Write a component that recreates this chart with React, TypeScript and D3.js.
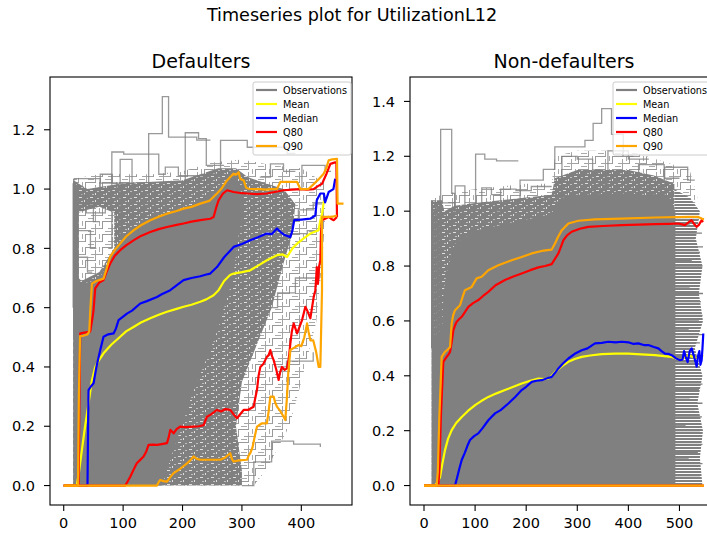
import React from "react";
import * as d3 from "d3";

type P = [number, number];
type V = [number, number, number];

const FONT = "'DejaVu Sans', sans-serif";

// ---------- axis ticks ----------
const leftXTicks = [0, 100, 200, 300, 400];
const leftYTicks = [0, 0.2, 0.4, 0.6, 0.8, 1.0, 1.2];
const rightXTicks = [0, 100, 200, 300, 400, 500];
const rightYTicks = [0, 0.2, 0.4, 0.6, 0.8, 1.0, 1.2, 1.4];
const leftXDomain: P = [-23.1, 485.3];
const leftYDomain: P = [-0.0656, 1.378];
const rightXDomain: P = [-27.4, 575.4];
const rightYDomain: P = [-0.0709, 1.489];

const legendLabels = ["Observations", "Mean", "Median", "Q80", "Q90"];

// ---------- Defaulters: statistics ----------
const leftMean: P[] = [[0,0],[22,0],[26,0.05],[30.6,0.12],[36,0.2],[41.8,0.277],[47,0.35],[53,0.4],[60,0.425],[67,0.446],[80,0.475],[95,0.502],[105,0.52],[117.5,0.535],[130,0.55],[145.7,0.564],[160,0.576],[173.8,0.586],[190,0.596],[201.8,0.603],[215,0.61],[229.9,0.62],[240,0.628],[252.3,0.642],[260.7,0.659],[270,0.69],[280,0.71],[286,0.715],[300,0.72],[314,0.726],[330,0.745],[342,0.76],[359,0.777],[368,0.78],[376,0.771],[385,0.8],[392.8,0.816],[405,0.835],[415,0.85],[429,0.861],[432,0.895],[435,0.917],[438,0.96]];
const leftMedian: P[] = [[0,0],[40,0],[41,0.2],[41.8,0.322],[46,0.335],[50.2,0.345],[55,0.4],[61.5,0.457],[67,0.502],[75,0.51],[83.9,0.513],[88,0.53],[92.3,0.558],[100,0.57],[106.4,0.58],[115,0.59],[128.9,0.614],[140,0.622],[157,0.636],[165,0.645],[179.4,0.659],[190,0.675],[201.8,0.693],[215,0.7],[229.9,0.706],[240,0.712],[246.7,0.715],[258,0.737],[270,0.77],[286,0.805],[300,0.815],[314,0.827],[330,0.84],[342,0.85],[350,0.848],[359,0.867],[365,0.855],[372,0.845],[381.5,0.838],[385,0.86],[388,0.895],[400,0.897],[415,0.9],[423.6,0.911],[426,0.962],[431.9,0.985],[438,0.985],[440,0.955],[446,0.99],[454,1.0],[457,1.035]];
const leftQ80: P[] = [[0,0],[25,0],[26.5,0.3],[27.8,0.513],[44.6,0.519],[48,0.56],[50.2,0.592],[53,0.665],[60,0.685],[67,0.693],[72,0.72],[78.3,0.749],[86,0.775],[95,0.794],[105,0.81],[117.5,0.827],[130,0.842],[145.7,0.855],[160,0.865],[173.8,0.872],[190,0.879],[201.8,0.884],[215,0.89],[229.9,0.895],[246.7,0.9],[252.3,0.906],[257,0.94],[260.7,0.962],[268,0.985],[275,0.996],[286,0.99],[300,0.986],[308.6,0.985],[325,0.983],[342,0.985],[355,0.99],[370,0.996],[385,0.998],[398,1.0],[410,0.998],[420.7,1.0],[428,1.01],[434.9,1.018],[442,1.05],[448.9,1.085],[457,1.09],[459,1.09],[460,0.906]];
const leftQ80Low: P[] = [[0,0],[103.6,0],[108,0.015],[112,0.03],[118,0.055],[123,0.075],[128,0.085],[134.4,0.098],[139,0.115],[142.8,0.137],[150,0.138],[157,0.137],[165,0.14],[173.8,0.143],[177,0.165],[179.4,0.188],[185,0.176],[190,0.19],[196,0.199],[205,0.197],[218.6,0.199],[228,0.2],[235.5,0.204],[241,0.232],[248,0.24],[258,0.255],[265,0.25],[272,0.258],[280.4,0.255],[286,0.24],[291.7,0.227],[296,0.238],[302.9,0.255],[310,0.255],[319.7,0.266],[322,0.29],[325.3,0.322],[328,0.37],[331,0.4],[336,0.41],[342,0.434],[345,0.44],[347.8,0.457],[350,0.44],[353.4,0.423],[358,0.39],[361.8,0.356],[364,0.38],[367.4,0.4],[372,0.39],[375.9,0.395],[379,0.43],[381.5,0.479],[384,0.52],[387.1,0.547],[390,0.53],[392.8,0.513],[396,0.53],[401.2,0.558],[404,0.58],[406.8,0.603],[410,0.59],[415.2,0.564],[418,0.6],[420.8,0.636],[423.6,0.659],[425,0.7],[426,0.737],[428,0.68],[430,0.74],[432,0.76],[433,0.85],[434.8,0.895],[440,0.9],[446,0.906],[450,0.9],[454.5,0.895],[460,0.906]];
const leftQ90: P[] = [[0,0],[24,0],[25.5,0.3],[27.5,0.504],[33,0.505],[40,0.51],[43,0.52],[45,0.6],[47.5,0.681],[55,0.69],[67,0.698],[72,0.73],[78,0.771],[86,0.795],[95,0.816],[105,0.84],[117.6,0.861],[130,0.878],[145.7,0.895],[160,0.907],[173.8,0.917],[190,0.926],[201.6,0.934],[215,0.94],[229.9,0.951],[245,0.96],[258,0.985],[265,1.0],[274.9,1.029],[280,1.04],[286,1.052],[290,1.048],[294.5,1.057],[297,1.035],[303,1.029],[307,1.005],[311,1.001],[320,1.0],[330,1.0],[340,0.998],[350,1.0],[359,1.0],[364.6,1.024],[375,1.024],[385,1.024],[392.8,1.024],[398.3,1.0],[405,1.0],[412,1.0],[420,1.015],[430,1.035],[437.6,1.052],[442,1.07],[446,1.097],[452,1.1],[460,1.102],[461,0.951],[471,0.951]];
const leftQ90Low: P[] = [[0,0],[157,0],[160,0.012],[162.5,0.019],[168,0.015],[173.8,0.013],[180,0.03],[185,0.042],[195,0.055],[207.5,0.075],[213,0.085],[218.6,0.098],[224,0.09],[229.9,0.087],[245,0.087],[263.6,0.087],[272,0.095],[280.4,0.109],[283,0.09],[286,0.081],[295,0.085],[308.6,0.087],[311,0.1],[314,0.109],[318,0.13],[322,0.17],[325.4,0.199],[330,0.205],[333.8,0.21],[342,0.21],[345,0.25],[347.8,0.3],[353.4,0.3],[356,0.28],[359,0.266],[365,0.25],[370.2,0.232],[373,0.221],[375.9,0.3],[378,0.38],[381.5,0.457],[388,0.465],[395.5,0.474],[400,0.47],[405,0.5],[409.6,0.547],[412,0.52],[415.2,0.49],[420,0.49],[425,0.45],[429.2,0.4],[432,0.4],[434.8,0.659],[434.8,0.906],[440,0.906],[448.9,0.906],[455,0.908],[460,0.911]];

// ---------- Defaulters: observation cloud (regions of differing line density) ----------
const leftSparse: P[] = [[16,0],[16,1.035],[60,1.05],[100,1.05],[150,1.05],[200,1.06],[250,1.09],[300,1.1],[350,1.08],[400,1.07],[440,1.02],[440,0.9],[435,0.75],[425,0.55],[400,0.35],[380,0.2],[340,0.05],[320,0]];
const leftDense: P[] = [[16,0],[16,1.03],[24,1.02],[40,1.0],[100,1.02],[200,1.03],[230,1.05],[260,1.07],[290,1.07],[310,1.04],[340,1.02],[370,1.0],[390,0.95],[385,0.85],[370,0.75],[350,0.6],[330,0.5],[300,0.35],[290,0.2],[300,0.05],[300,0]];
const leftPocket: P[] = [[25,0.7],[25,0.92],[40,0.93],[60,0.94],[85,0.92],[85,0.8],[60,0.72],[30,0.69]];
const leftSolid: P[] = [[16,0],[16,1.0],[24,1.0],[25,0.7],[30,0.68],[48,0.69],[60,0.7],[72,0.74],[80,0.78],[95,0.82],[110,0.86],[130,0.885],[160,0.91],[200,0.935],[230,0.955],[258,0.99],[275,1.03],[290,1.05],[300,0.98],[300,0.9],[295,0.85],[285,0.7],[255,0.5],[215,0.3],[190,0.15],[165,0]];
const leftVerticals: V[] = [[16,0.6,1.02],[17,0.5,1.035],[18.5,0.6,1.0],[20,0.6,1.025],[22,0.6,0.98],[23.5,0.6,1.01]];
const leftObs: P[][] = [
  [[130,0.95],[143,1.187],[166,1.312],[176.5,1.175],[224,1.165],[247,1.165]],
  [[75,0.8],[81,1.125],[101,1.118],[160,1.05],[171,1.074],[193,1.045],[241,1.0],[260,1.0]],
  [[90,0.85],[95,1.1],[115,1.0],[150,1.0]],
  [[40,0.95],[61.5,1.05],[81,1.02],[120,1.0]],
  [[17,1.035],[61.5,1.02],[90,1.0]],
  [[180,0.98],[204.6,1.19],[227,1.17],[240,1.08],[270,1.08]],
  [[240,1.05],[264,1.164],[309,1.141],[376,1.12],[390,1.12]],
  [[330,1.04],[348,1.085],[370,1.06],[390,1.06]],
  [[380,1.0],[401,1.08],[440,1.06],[450,1.06]],
  [[24,0.95],[50,0.89],[60,0.89]],
  [[24,0.86],[45,0.8],[55,0.8]],
  [[24,0.77],[40,0.72],[48,0.72]],
  [[30,0.98],[38,0.92],[70,0.95]],
  [[300,0],[320,0.08],[350,0.15],[380,0.15],[387,0.14],[432,0.13]],
  [[360,0.4],[375,0.42],[400,0.42],[420,0.45]],
  [[340,0.6],[360,0.65],[390,0.7],[430,0.72]],
  [[350,0.8],[380,0.85],[410,0.86],[430,0.86]],
  [[370,0.9],[395,0.93],[420,0.95],[435,0.95]],
];

// ---------- Non-defaulters: statistics ----------
const rightMean: P[] = [[0,0],[21.5,0],[26,0.01],[31.3,0.03],[36,0.08],[41.1,0.129],[47,0.17],[54.2,0.202],[63,0.228],[73.8,0.25],[86,0.272],[100,0.293],[112,0.308],[125.9,0.323],[142,0.336],[158.5,0.348],[175,0.36],[191.2,0.372],[208,0.382],[223.8,0.39],[235,0.388],[243.3,0.39],[250,0.4],[256.4,0.414],[270,0.435],[282.5,0.451],[295,0.461],[308.6,0.469],[325,0.474],[347.7,0.479],[375,0.481],[399.8,0.481],[425,0.478],[452,0.475],[470,0.472],[484.7,0.469],[495,0.462],[501,0.457],[508,0.465],[517,0.475],[525,0.47],[533,0.465],[540,0.47],[546.6,0.475]];
const rightMedian: P[] = [[0,0],[60.7,0],[65,0.03],[69,0.06],[73.8,0.093],[80,0.12],[85,0.145],[90,0.166],[98,0.18],[106.3,0.19],[115,0.21],[125.9,0.238],[132,0.25],[139,0.263],[150,0.275],[165.1,0.299],[178,0.322],[191.2,0.348],[200,0.36],[210.8,0.378],[220,0.382],[230.3,0.384],[240,0.39],[249.9,0.396],[256,0.41],[263,0.427],[272,0.445],[282.5,0.463],[295,0.48],[308.6,0.493],[320,0.5],[334.6,0.518],[348,0.52],[360.7,0.524],[375,0.522],[386.9,0.524],[400,0.522],[410,0.516],[419.5,0.518],[430,0.512],[439,0.512],[450,0.505],[458.6,0.5],[465,0.49],[471.6,0.481],[478,0.48],[484.7,0.475],[492,0.465],[501,0.457],[506,0.46],[509,0.49],[512,0.47],[516,0.45],[520,0.49],[523.9,0.5],[527,0.48],[530,0.46],[533.7,0.433],[536,0.47],[539,0.49],[541,0.44],[543.4,0.457],[545,0.5],[546.6,0.554]];
const rightQ80: P[] = [[0,0],[28,0],[30,0.05],[33,0.25],[37.8,0.451],[41,0.46],[44.4,0.469],[48,0.478],[51,0.487],[54,0.52],[57.4,0.566],[61,0.585],[64,0.597],[68,0.605],[73.8,0.615],[80,0.632],[86.8,0.651],[96,0.665],[106.3,0.676],[115,0.69],[125.9,0.706],[140,0.73],[158.5,0.749],[175,0.762],[191.2,0.773],[208,0.785],[223.9,0.795],[237,0.8],[249.9,0.807],[256,0.825],[263,0.846],[268,0.87],[272.8,0.894],[280,0.912],[289,0.925],[305,0.936],[321.5,0.943],[350,0.946],[386.9,0.949],[420,0.951],[452,0.953],[480,0.954],[497.6,0.955],[505,0.952],[510.6,0.949],[517,0.958],[523.6,0.967],[528,0.955],[533.4,0.943],[538,0.95],[543.3,0.967],[546,0.96]];
const rightQ80Low: P[] = [[0,0],[548,0]];
const rightQ90: P[] = [[0,0],[24.8,0],[27,0.05],[30,0.25],[34.6,0.469],[41,0.487],[46,0.495],[51,0.505],[54.2,0.591],[57,0.62],[60.7,0.639],[70.5,0.657],[76,0.69],[80.2,0.712],[93.3,0.724],[103,0.755],[112.9,0.761],[125.9,0.785],[145.4,0.803],[171.6,0.821],[191.2,0.833],[210.8,0.846],[230.3,0.855],[249.9,0.86],[256.4,0.882],[262,0.905],[269.5,0.93],[282.5,0.955],[302,0.965],[334.6,0.97],[386.9,0.973],[452,0.977],[517.2,0.979],[536.8,0.979],[543.3,0.973],[548,0.97]];
const rightQ90Low: P[] = [[0,0],[548,0]];

// ---------- Non-defaulters: observation cloud ----------
const rightSparse: P[] = [[15,0.9],[15,1.045],[35,1.06],[60,1.07],[100,1.08],[200,1.1],[250,1.1],[256,1.2],[300,1.22],[400,1.22],[470,1.18],[520,1.15],[535,1.05],[500,0.9]];
const rightDense: P[] = [[15,0],[15,1.04],[35,1.04],[40,1.0],[60,1.02],[100,1.03],[150,1.04],[250,1.06],[256,1.12],[300,1.15],[400,1.15],[450,1.13],[490,1.1],[492,0]];
const rightSolid: P[] = [[15,0],[15,0.55],[35,0.55],[38,0.7],[45,0.78],[60,0.88],[100,0.93],[150,0.95],[200,0.97],[250,0.99],[258,1.03],[270,1.05],[300,1.06],[400,1.065],[480,1.05],[492,1.0],[492,0]];
const rightHatch: P[] = [[490,0],[545,0],[540,0.1],[546,0.2],[535,0.3],[545,0.4],[530,0.5],[546,0.6],[538,0.7],[545,0.8],[532,0.9],[540,1.0],[520,1.05],[490,1.08]];
const rightVerticals: V[] = [[15,0.5,1.04],[16.5,0.5,1.03],[19,0.5,1.0],[22,0.5,0.98],[25,0.5,1.03],[28,0.5,0.95],[31,0.5,1.04],[34,0.6,1.02]];
const rightEdgeSegs: V[] = [[0.03,480,540],[0.05,480,528],[0.08,480,545],[0.1,480,518],[0.12,480,536],[0.15,480,545],[0.17,480,525],[0.2,480,540],[0.22,480,512],[0.25,480,544],[0.27,480,530],[0.3,480,545],[0.32,480,520],[0.35,480,538],[0.37,480,545],[0.4,480,515],[0.42,480,542],[0.45,480,530],[0.47,480,545],[0.5,480,522],[0.52,480,540],[0.55,480,546],[0.57,480,518],[0.6,480,538],[0.62,480,545],[0.65,480,528],[0.67,480,542],[0.7,480,546],[0.72,480,520],[0.75,480,540],[0.77,480,532],[0.8,480,545],[0.82,480,524],[0.85,480,540],[0.87,480,546],[0.9,480,530],[0.92,480,544],[0.95,480,520],[0.97,480,538]];
const rightObs: P[][] = [
  [[20,1.0],[32.6,1.298],[54.2,1.065],[60,1.0]],
  [[95,1.0],[101,1.208],[119,1.19],[142,1.183],[184.6,1.183]],
  [[55,1.0],[61,1.092],[80,1.0]],
  [[105,1.0],[113,1.085],[132,1.06],[150,1.06]],
  [[180,1.04],[188,1.113],[233.5,1.152],[256,1.234],[315,1.258],[331,1.32],[347.7,1.374],[367,1.28],[390,1.2],[410,1.2]],
  [[440,1.06],[471,1.16],[516,1.113],[530,1.113]],
  [[256,1.06],[270,1.2],[300,1.19],[330,1.15],[345,1.15]],
  [[400,1.08],[420,1.17],[455,1.17],[470,1.12],[500,1.12]],
  [[340,1.1],[360,1.22],[380,1.22],[400,1.19],[440,1.19]],
  [[15,1.03],[30,1.03],[60,1.0]],
  [[130,1.0],[150,1.08],[180,1.075],[210,1.09],[250,1.09]],
];

// ---------- drawing ----------
const TOP = 77;
const BOTTOM = 505;
const GREY = "#808080";

function Panel(props: any) {
  const { id, x0, x1, xDomain, yDomain, xTicks, yTicks, title, sparse, dense, pocket, solid, hatch, verticals, obs, edgeSegs, stats, legendX } = props;
  const x = d3.scaleLinear().domain(xDomain).range([x0, x1]);
  const y = d3.scaleLinear().domain(yDomain).range([BOTTOM, TOP]);
  const poly = d3.line<P>().x((d) => x(d[0])).y((d) => y(d[1]));
  const step = d3.line<P>().x((d) => x(d[0])).y((d) => y(d[1])).curve(d3.curveStepAfter);
  const lin = d3.line<P>().x((d) => x(d[0])).y((d) => y(d[1]));
  const yFmt = d3.format(".1f");
  const legendColors = ["grey", "yellow", "blue", "red", "orange"];
  const area = (pts: P[] | null) => (pts ? (poly(pts) || "") + "Z" : "");
  return (
    <g>
      <defs>
        <clipPath id={id}>
          <rect x={x0} y={TOP} width={x1 - x0} height={BOTTOM - TOP} />
        </clipPath>
      </defs>
      <g clipPath={`url(#${id})`}>
        {sparse && <path d={area(sparse)} fill="url(#pSparse)" />}
        {dense && <path d={area(dense)} fill="url(#pDense)" />}
        {pocket && <path d={area(pocket)} fill="url(#pSparse)" />}
        {hatch && <path d={area(hatch)} fill="url(#pHatch)" />}
        <path d={area(solid)} fill={GREY} />
        {verticals.map((v: V, i: number) => (
          <line key={"v" + i} x1={x(v[0])} x2={x(v[0])} y1={y(v[1])} y2={y(v[2])} stroke={GREY} strokeWidth={1.3} />
        ))}
        {edgeSegs.map((v: V, i: number) => (
          <line key={"e" + i} x1={x(v[1])} x2={x(v[2])} y1={y(v[0])} y2={y(v[0])} stroke={GREY} strokeWidth={1.3} />
        ))}
        {obs.map((o: P[], i: number) => (
          <path key={"o" + i} d={step(o) || ""} fill="none" stroke={GREY} strokeWidth={1.3} strokeOpacity={0.8} />
        ))}
        {stats.map((s: any, i: number) => (
          <path key={"s" + i} d={lin(s.data) || ""} fill="none" stroke={s.color} strokeWidth={2.2} strokeLinejoin="round" />
        ))}
      </g>
      <rect x={x0} y={TOP} width={x1 - x0} height={BOTTOM - TOP} fill="none" stroke="#000" strokeWidth={1.1} />
      {xTicks.map((t: number) => (
        <g key={"xt" + t}>
          <line x1={x(t)} x2={x(t)} y1={BOTTOM} y2={BOTTOM + 6} stroke="#000" strokeWidth={1.1} />
          <text x={x(t)} y={BOTTOM + 23} textAnchor="middle" fontFamily={FONT} fontSize={14.5}>{t}</text>
        </g>
      ))}
      {yTicks.map((t: number) => (
        <g key={"yt" + t}>
          <line x1={x0 - 6} x2={x0} y1={y(t)} y2={y(t)} stroke="#000" strokeWidth={1.1} />
          <text x={x0 - 15} y={y(t) + 5.2} textAnchor="end" fontFamily={FONT} fontSize={14.5}>{yFmt(t)}</text>
        </g>
      ))}
      <text x={(x0 + x1) / 2} y={68} textAnchor="middle" fontFamily={FONT} fontSize={19}>{title}</text>
      <g>
        <rect x={legendX} y={82} width={98} height={73} rx={2} fill="#fff" fillOpacity={0.8} stroke="#cccccc" strokeWidth={1} />
        {legendLabels.map((lab, i) => (
          <g key={lab}>
            <line x1={legendX + 3} x2={legendX + 24} y1={90 + i * 14} y2={90 + i * 14} stroke={legendColors[i]} strokeWidth={2.2} />
            <text x={legendX + 30} y={90 + i * 14 + 3.5} fontFamily={FONT} fontSize={9.7}>{lab}</text>
          </g>
        ))}
      </g>
    </g>
  );
}

export default function App() {
  const leftStats = [
    { data: leftMean, color: "yellow" },
    { data: leftMedian, color: "blue" },
    { data: leftQ80Low, color: "red" },
    { data: leftQ80, color: "red" },
    { data: leftQ90Low, color: "orange" },
    { data: leftQ90, color: "orange" },
  ];
  const rightStats = [
    { data: rightMean, color: "yellow" },
    { data: rightMedian, color: "blue" },
    { data: rightQ80Low, color: "red" },
    { data: rightQ80, color: "red" },
    { data: rightQ90Low, color: "orange" },
    { data: rightQ90, color: "orange" },
  ];
  return (
    <svg width={707} height={534} style={{ position: "absolute", left: 0, top: 0, background: "#fff" }}>
      <defs>
        <pattern id="pDense" width={11} height={7} patternUnits="userSpaceOnUse">
          <rect width={11} height={7} fill={GREY} />
          <rect x={2} y={1} width={3} height={1} fill="#fff" opacity={0.75} />
          <rect x={7} y={4} width={1} height={2} fill="#fff" opacity={0.75} />
          <rect x={9} y={2} width={2} height={1} fill="#fff" opacity={0.5} />
          <rect x={4} y={5} width={2} height={1} fill="#fff" opacity={0.5} />
        </pattern>
        <pattern id="pSparse" width={17} height={13} patternUnits="userSpaceOnUse">
          <rect width={17} height={13} fill="#fff" />
          <rect x={0} y={0} width={11} height={1} fill="#999" />
          <rect x={6} y={7} width={11} height={1} fill="#a3a3a3" />
          <rect x={0} y={0} width={1} height={8} fill="#999" />
          <rect x={10} y={3} width={1} height={10} fill="#a3a3a3" />
          <rect x={14} y={0} width={1} height={5} fill="#aaa" />
          <rect x={3} y={10} width={6} height={1} fill="#aaa" />
        </pattern>
        <pattern id="pHatch" width={6} height={3} patternUnits="userSpaceOnUse">
          <rect width={6} height={3} fill="#fff" />
          <rect width={6} height={2} fill={GREY} />
        </pattern>
      </defs>
      <rect x={0} y={0} width={707} height={534} fill="#fff" />
      <text x={352} y={21} textAnchor="middle" fontFamily={FONT} fontSize={17.6}>Timeseries plot for UtilizationL12</text>
      <Panel id="clipL" x0={50} x1={352} xDomain={leftXDomain} yDomain={leftYDomain} xTicks={leftXTicks} yTicks={leftYTicks}
        title="Defaulters" sparse={leftSparse} dense={leftDense} pocket={leftPocket} solid={leftSolid} hatch={null}
        verticals={leftVerticals} obs={leftObs} edgeSegs={[]} stats={leftStats} legendX={253} />
      <Panel id="clipR" x0={410} x1={718} xDomain={rightXDomain} yDomain={rightYDomain} xTicks={rightXTicks} yTicks={rightYTicks}
        title="Non-defaulters" sparse={rightSparse} dense={rightDense} pocket={null} solid={rightSolid} hatch={rightHatch}
        verticals={rightVerticals} obs={rightObs} edgeSegs={rightEdgeSegs} stats={rightStats} legendX={613} />
    </svg>
  );
}
